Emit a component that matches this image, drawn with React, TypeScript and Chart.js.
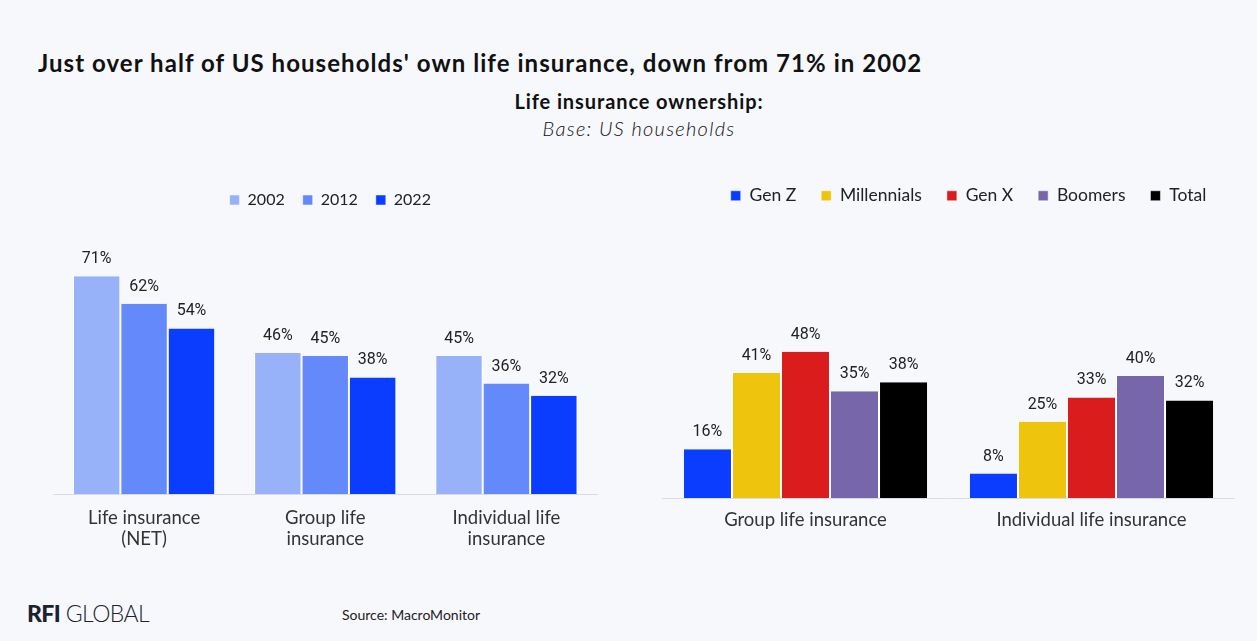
import React, { useEffect, useRef } from "react";
import { Chart, registerables } from "chart.js";

Chart.register(...registerables);

// Ownership by survey year
const yearCategories: string[][] = [
  ["Life insurance", "(NET)"],
  ["Group life", "insurance"],
  ["Individual life", "insurance"],
];
const yearLabels = ["2002", "2012", "2022"];
const values2002 = [71, 46, 45];
const values2012 = [62, 45, 36];
const values2022 = [54, 38, 32];
const yearColors = ["#98B2FA", "#6489FB", "#0A3DFF"];

// Ownership by generation (2022)
const genCategories = ["Group life insurance", "Individual life insurance"];
const genLabels = ["Gen Z", "Millennials", "Gen X", "Boomers", "Total"];
const genZ = [16, 8];
const millennials = [41, 25];
const genX = [48, 33];
const boomers = [35, 40];
const total = [38, 32];
const genColors = ["#0A3DFF", "#EFC40C", "#DA1C1C", "#7766AA", "#000000"];

const BG = "#F7F8FC";
const TEXT_FONT = "Lato, 'Open Sans', sans-serif";

// Percent labels above every bar
const valueLabels = {
  id: "valueLabels",
  afterDatasetsDraw(chart: any) {
    const ctx = chart.ctx;
    ctx.save();
    ctx.font = "16px Roboto";
    ctx.fillStyle = "#222222";
    ctx.textAlign = "center";
    ctx.textBaseline = "middle";
    chart.data.datasets.forEach((ds: any, i: number) => {
      const meta = chart.getDatasetMeta(i);
      meta.data.forEach((bar: any, j: number) => {
        ctx.fillText(ds.data[j] + "%", bar.x, bar.y - 17);
      });
    });
    ctx.restore();
  },
};

// Nudges the legend sideways without moving the plot area
const legendShift = {
  id: "legendShift",
  afterLayout(chart: any, _args: any, opts: any) {
    const dx = (opts && opts.dx) || 0;
    if (chart.legend && dx) {
      chart.legend.left += dx;
      chart.legend.right += dx;
    }
  },
};

function makeOptions(opts: {
  yMax: number;
  catPct: number;
  legendFont: number;
  legendPad: number;
  legendDx: number;
  padLeft: number;
  padRight: number;
  xHeight: number;
  tickPad: number;
}) {
  return {
    responsive: false,
    animation: false as const,
    layout: { padding: { left: opts.padLeft, right: opts.padRight, top: 0, bottom: 0 } },
    plugins: {
      legend: {
        position: "top" as const,
        labels: {
          boxWidth: 10,
          boxHeight: 10,
          padding: opts.legendPad,
          color: "#222222",
          font: { family: TEXT_FONT, size: opts.legendFont },
        },
      },
      legendShift: { dx: opts.legendDx },
      tooltip: { enabled: false },
    },
    datasets: {
      bar: {
        categoryPercentage: opts.catPct,
        barPercentage: 1,
        borderColor: "#FFFFFF",
        borderWidth: { left: 1, right: 1, top: 0, bottom: 0 },
        borderSkipped: false,
      },
    },
    scales: {
      x: {
        grid: { display: false, drawTicks: false },
        border: { display: true, color: "#DADCE2", width: 1 },
        ticks: {
          color: "#333333",
          padding: opts.tickPad,
          maxRotation: 0,
          autoSkip: false,
          font: { family: TEXT_FONT, size: 18.5, lineHeight: 1.14 },
        },
        afterFit: (s: any) => {
          s.height = opts.xHeight;
        },
      },
      y: {
        display: false,
        min: 0,
        max: opts.yMax,
      },
    },
  };
}

function BarChart(props: { config: any; style: React.CSSProperties; width: number; height: number }) {
  const ref = useRef<HTMLCanvasElement>(null);
  useEffect(() => {
    if (!ref.current) return;
    const chart = new Chart(ref.current, props.config);
    return () => chart.destroy();
  }, []);
  return <canvas ref={ref} width={props.width} height={props.height} style={{ position: "absolute", ...props.style }} />;
}

export default function App() {
  const yearConfig = {
    type: "bar",
    data: {
      labels: yearCategories,
      datasets: [values2002, values2012, values2022].map((d, i) => ({
        label: yearLabels[i],
        data: d,
        backgroundColor: yearColors[i],
      })),
    },
    options: makeOptions({
      yMax: 90,
      catPct: 0.785,
      legendFont: 16,
      legendPad: 18,
      legendDx: 5,
      padLeft: 13.5,
      padRight: 13,
      xHeight: 80,
      tickPad: 13,
    }),
    plugins: [valueLabels, legendShift],
  };

  const genConfig = {
    type: "bar",
    data: {
      labels: genCategories,
      datasets: [genZ, millennials, genX, boomers, total].map((d, i) => ({
        label: genLabels[i],
        data: d,
        backgroundColor: genColors[i],
      })),
    },
    options: makeOptions({
      yMax: 93,
      catPct: 0.857,
      legendFont: 17.5,
      legendPad: 25,
      legendDx: 20,
      padLeft: 12.5,
      padRight: 15.5,
      xHeight: 60,
      tickPad: 11,
    }),
    plugins: [valueLabels, legendShift],
  };

  return (
    <div
      style={{
        position: "fixed",
        left: 0,
        top: 0,
        width: 1257,
        height: 641,
        background: BG,
        overflow: "hidden",
        fontFamily: TEXT_FONT,
      }}
    >
      <div
        style={{
          position: "absolute",
          left: 38,
          top: 49,
          fontSize: 24,
          lineHeight: "28px",
          fontWeight: 700,
          letterSpacing: 1.05,
          color: "#111111",
          whiteSpace: "nowrap",
        }}
      >
        Just over half of US households' own life insurance, down from 71% in 2002
      </div>
      <div
        style={{
          position: "absolute",
          left: 339,
          top: 88,
          width: 600,
          textAlign: "center",
          fontSize: 20,
          lineHeight: "27px",
          color: "#111111",
        }}
      >
        <div style={{ fontWeight: 700, letterSpacing: 0.9 }}>Life insurance ownership:</div>
        <div style={{ fontStyle: "italic", fontWeight: 300, letterSpacing: 1.3 }}>Base: US households</div>
      </div>

      <BarChart config={yearConfig} width={570} height={400} style={{ left: 40, top: 174 }} />
      <BarChart config={genConfig} width={600} height={396} style={{ left: 650, top: 162 }} />

      <div
        style={{
          position: "absolute",
          left: 27,
          top: 599,
          fontSize: 23,
          lineHeight: "28px",
          color: "#1B2230",
          letterSpacing: -0.6,
          whiteSpace: "nowrap",
        }}
      >
        <span style={{ fontWeight: 900 }}>RFI</span>
        <span style={{ fontWeight: 300 }}> GLOBAL</span>
      </div>
      <div
        style={{
          position: "absolute",
          left: 342,
          top: 606,
          fontSize: 14,
          lineHeight: "18px",
          color: "#222222",
          whiteSpace: "nowrap",
        }}
      >
        Source: MacroMonitor
      </div>
    </div>
  );
}
